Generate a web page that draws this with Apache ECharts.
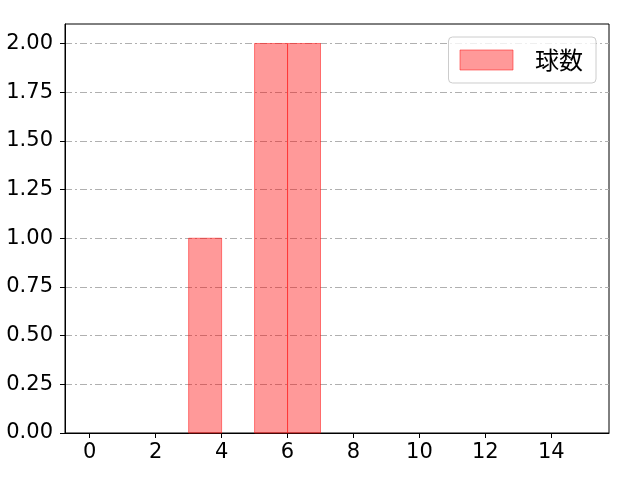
<!DOCTYPE html>
<html>
<head>
<meta charset="utf-8">
<script src="https://cdn.jsdelivr.net/npm/echarts@6/dist/echarts.min.js"></script>
<style>html,body{margin:0;padding:0;background:#fff}#c{width:640px;height:480px}</style>
</head>
<body>
<div id="c"></div>
<script>
const seriesName = '球数';
const binStarts = [3, 5, 6];
const binEnds = [4, 6, 7];
const counts = [1, 2, 2];
const xTicks = [0, 2, 4, 6, 8, 10, 12, 14];
const yTicks = [0, 0.25, 0.5, 0.75, 1, 1.25, 1.5, 1.75, 2];

const data = binStarts.map((s, i) => [s, binEnds[i], counts[i]]);
const chart = echarts.init(document.getElementById('c'), null, {renderer: 'canvas'});
const fill = 'rgba(255,0,0,0.4)';
const edge = 'rgba(255,30,30,0.55)';
chart.setOption({
  animation: false,
  backgroundColor: '#fff',
  grid: {left: 65, right: 31, top: 24, bottom: 47, show: true, borderColor: '#000', borderWidth: 1, backgroundColor: 'transparent'},
  legend: {
    data: [{name: seriesName, icon: 'rect', itemStyle: {color: fill, borderColor: edge, borderWidth: 1}}],
    right: 44, top: 37,
    itemWidth: 53, itemHeight: 20,
    padding: [11, 13, 11, 11],
    borderColor: '#cccccc', borderWidth: 1, borderRadius: 4,
    backgroundColor: 'rgba(255,255,255,0.8)',
    textStyle: {fontFamily: 'Noto Sans CJK JP', fontSize: 24, color: '#000', padding: [0, 0, 0, 17]}
  },
  xAxis: {
    type: 'value', min: -0.75, max: 15.75,
    axisLine: {show: true, onZero: false, lineStyle: {color: '#000', width: 1}},
    axisTick: {show: true, length: 5, lineStyle: {color: '#000'}, customValues: xTicks},
    axisLabel: {customValues: xTicks, fontFamily: 'DejaVu Sans', fontSize: 21, color: '#000', margin: 9},
    splitLine: {show: false}
  },
  yAxis: {
    type: 'value', min: 0, max: 2.1, interval: 0.25,
    axisLine: {show: true, onZero: false, lineStyle: {color: '#000', width: 1}},
    axisTick: {show: true, length: 5, lineStyle: {color: '#000'}, customValues: yTicks},
    axisLabel: {customValues: yTicks, fontFamily: 'DejaVu Sans', fontSize: 21, color: '#000', margin: 12,
      formatter: v => v.toFixed(2)},
    splitLine: {show: true, lineStyle: {color: '#b0b0b0', width: 1, type: [7, 3, 2, 3]}}
  },
  series: [{
    name: seriesName,
    type: 'custom',
    data: data,
    encode: {x: [0, 1], y: 2},
    renderItem: function (params, api) {
      const p0 = api.coord([api.value(0), api.value(2)]);
      const p1 = api.coord([api.value(1), 0]);
      return {
        type: 'rect',
        shape: {x: p0[0], y: p0[1], width: p1[0] - p0[0], height: p1[1] - p0[1]},
        style: {fill: fill, stroke: edge, lineWidth: 1}
      };
    }
  }]
});
</script>
</body>
</html>
